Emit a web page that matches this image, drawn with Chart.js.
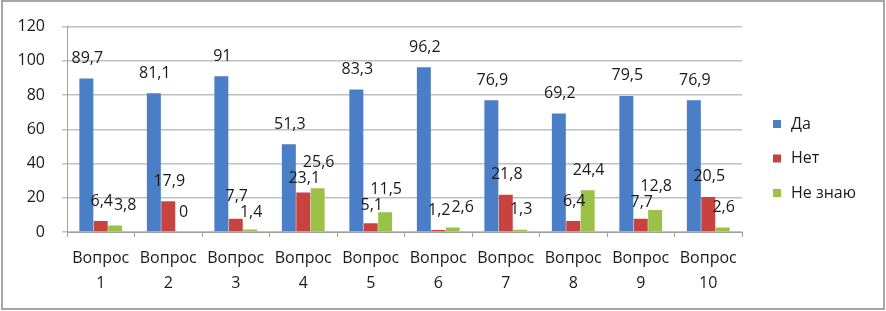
<!DOCTYPE html>
<html><head><meta charset="utf-8">
<script src="https://cdn.jsdelivr.net/npm/chart.js@4"></script>
<style>
html,body{margin:0;padding:0;background:#fff;}
#wrap{position:relative;width:886px;height:311px;}
#frame{position:absolute;left:1px;top:0px;border:2px solid #a6a6a6;pointer-events:none;box-sizing:border-box;width:884px;height:310px;}
canvas{display:block;}
</style></head>
<body>
<div id="wrap"><canvas id="c" width="886" height="311"></canvas><div id="frame"></div></div>
<script>
const categories = [["Вопрос","1"],["Вопрос","2"],["Вопрос","3"],["Вопрос","4"],["Вопрос","5"],["Вопрос","6"],["Вопрос","7"],["Вопрос","8"],["Вопрос","9"],["Вопрос","10"]];
const seriesNames = ["Да","Нет","Не знаю"];
const yesValues = [89.7,81.1,91,51.3,83.3,96.2,76.9,69.2,79.5,76.9];
const noValues = [6.4,17.9,7.7,23.1,5.1,1.2,21.8,6.4,7.7,20.5];
const dontKnowValues = [3.8,0,1.4,25.6,11.5,2.6,1.3,24.4,12.8,2.6];
const colors = ["#4a7ec6","#c8433f","#9bc147"];
const FONT = "'Open Sans', 'Liberation Sans', sans-serif";

const labelPlugin = {
  id:'vals',
  afterDatasetsDraw(chart){
    const ctx = chart.ctx;
    ctx.save();
    ctx.font = "16px " + FONT;
    ctx.fillStyle = "#1a1a1a";
    ctx.textAlign = "center";
    ctx.textBaseline = "middle";
    const H = 15;
    const n = chart.data.labels.length;
    for (let j=0;j<n;j++){
      const boxes = chart.data.datasets.map((ds,i)=>{
        const bar = chart.getDatasetMeta(i).data[j];
        const t = String(ds.data[j]).replace('.',',');
        return {t, x: bar.x + 1, y: bar.y - 20, w: ctx.measureText(t).width};
      });
      for (let k=0;k<boxes.length-1;k++){
        const a = boxes[k], b = boxes[k+1];
        const ox = (a.w+b.w)/2 + 1 - Math.abs(b.x-a.x);
        const oy = H + 1 - Math.abs(b.y-a.y);
        if (ox>0 && oy>0){
          if (ox <= oy) { b.x += ox; }
          else {
            const up = a.y <= b.y ? a : b, dn = up===a ? b : a;
            up.y -= oy/2; dn.y += oy/2;
          }
        }
      }
      boxes.forEach(bx=>ctx.fillText(bx.t, bx.x, bx.y));
    }
    ctx.restore();
  }
};
const legendPlugin = {
  id:'leg',
  afterDraw(chart){
    const ctx = chart.ctx;
    ctx.save();
    ctx.font = "16px " + FONT;
    ctx.textBaseline = "middle";
    ctx.textAlign = "left";
    const x0 = chart.chartArea.right + 31;
    const y0 = 124, step = 34.5;
    chart.data.datasets.forEach((ds,i)=>{
      const y = y0 + i*step;
      ctx.fillStyle = ds.backgroundColor;
      ctx.fillRect(x0, y-4, 8, 8);
      ctx.fillStyle = "#1a1a1a";
      ctx.fillText(ds.label, x0 + 18, y);
    });
    ctx.restore();
  }
};

new Chart(document.getElementById('c'), {
  type:'bar',
  data:{
    labels: categories,
    datasets:[
      {label:seriesNames[0], data:yesValues, backgroundColor:colors[0]},
      {label:seriesNames[1], data:noValues, backgroundColor:colors[1]},
      {label:seriesNames[2], data:dontKnowValues, backgroundColor:colors[2]}
    ]
  },
  options:{
    responsive:false,
    animation:false,
    events:[],
    datasets:{bar:{categoryPercentage:0.64, barPercentage:0.97}},
    layout:{padding:{top:25,right:144,bottom:7,left:0}},
    plugins:{legend:{display:false}, tooltip:{enabled:false}},
    scales:{
      x:{
        afterFit(s){s.height=72;},
        grid:{display:true, drawOnChartArea:false, tickLength:5, color:"#a0a0a0"},
        border:{display:true,color:"#a0a0a0"},
        ticks:{font:{family:FONT,size:16,lineHeight:1.55}, color:"#1a1a1a", padding:9, maxRotation:0, autoSkip:false}
      },
      y:{
        min:0,max:120,
        afterFit(s){s.width=67;},
        grid:{color:"#c0c0c0", tickLength:5, lineWidth:1.5},
        border:{display:true,color:"#a0a0a0"},
        ticks:{stepSize:20, font:{family:FONT,size:16}, color:"#1a1a1a", padding:17}
      }
    }
  },
  plugins:[labelPlugin, legendPlugin]
});
</script>
</body></html>
